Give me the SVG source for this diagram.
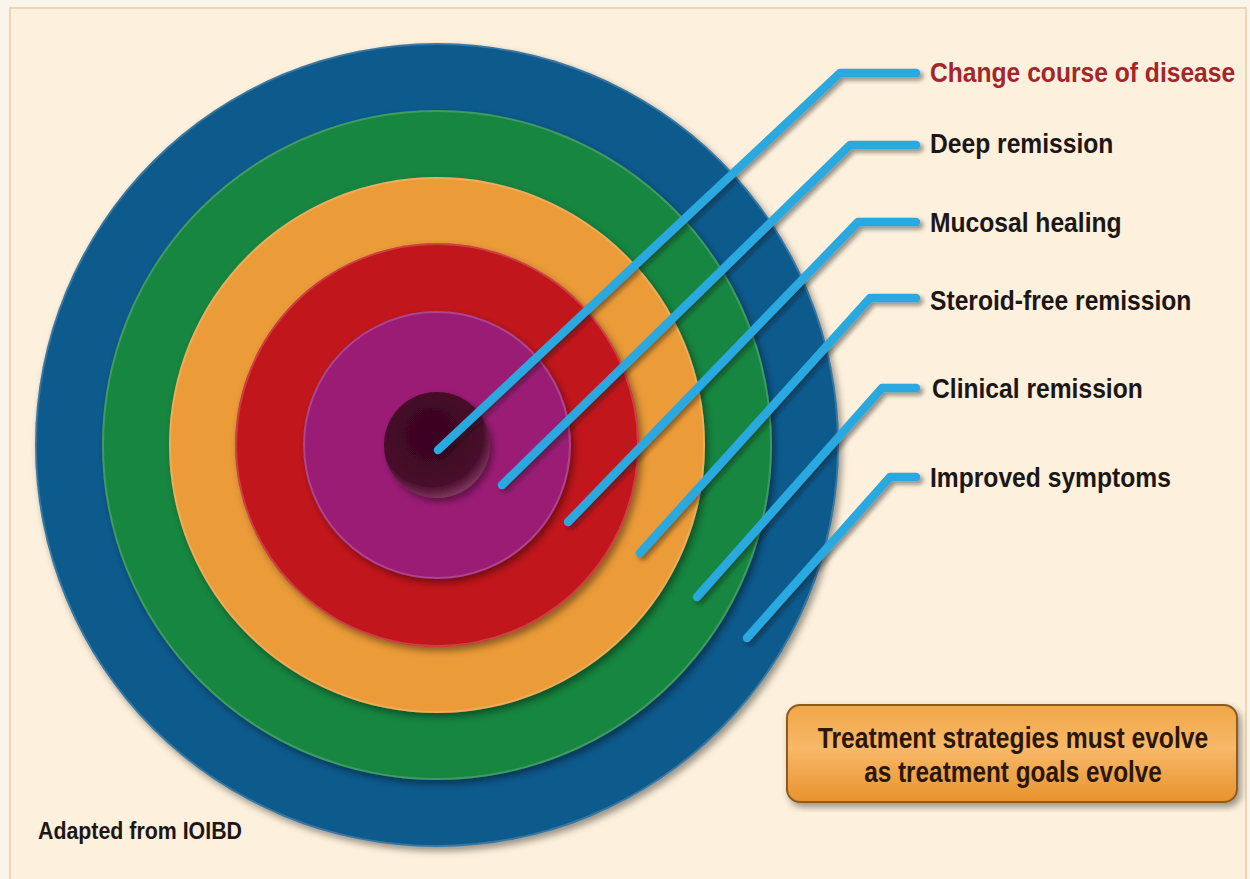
<svg xmlns="http://www.w3.org/2000/svg" width="1250" height="879" viewBox="0 0 1250 879">
<defs>
<style>
.lbl{font-family:"Liberation Sans",Arial,sans-serif;font-weight:bold;font-size:28px;fill:#1c1714}
.red{fill:#a3262b}
.box{font-family:"Liberation Sans",Arial,sans-serif;font-weight:bold;font-size:29px;fill:#2b1708;text-anchor:middle}
.conn{fill:none;stroke:#2aa8e0;stroke-width:8.5;stroke-linejoin:round;stroke-linecap:round}
.rim{fill:none;stroke:#ffffff;stroke-opacity:0.18;stroke-width:2}
</style>
<filter id="ds" x="-10%" y="-10%" width="120%" height="120%">
<feDropShadow dx="3" dy="4" stdDeviation="3.5" flood-color="#000" flood-opacity="0.4"/>
</filter>
<filter id="ls" x="-10%" y="-10%" width="120%" height="120%">
<feDropShadow dx="3" dy="3" stdDeviation="2" flood-color="#1a1a1a" flood-opacity="0.45"/>
</filter>
<linearGradient id="boxg" x1="0" y1="0" x2="0" y2="1">
<stop offset="0" stop-color="#f0a748"/>
<stop offset="0.45" stop-color="#f7b868"/>
<stop offset="1" stop-color="#e8922c"/>
</linearGradient>
<radialGradient id="core" cx="0.45" cy="0.4" r="0.6">
<stop offset="0" stop-color="#3a031f"/>
<stop offset="0.8" stop-color="#470a2a"/>
<stop offset="1" stop-color="#7a3558"/>
</radialGradient>
</defs>
<rect x="0" y="0" width="1250" height="879" fill="#fbf4ea"/>
<rect x="10" y="8" width="1236" height="872" fill="#fdf0dc" stroke="#ead7b6" stroke-width="2"/>
<g id="ring-blue"><circle cx="437" cy="445" r="402" fill="#0e5a8d" filter="url(#ds)"/><circle cx="437" cy="445" r="401" class="rim"/></g>
<g id="ring-green"><circle cx="437" cy="445" r="335" fill="#178641" filter="url(#ds)"/><circle cx="437" cy="445" r="334" class="rim"/></g>
<g id="ring-orange"><circle cx="437" cy="445" r="268" fill="#eb9b38" filter="url(#ds)"/><circle cx="437" cy="445" r="267" class="rim"/></g>
<g id="ring-red"><circle cx="437" cy="445" r="202" fill="#c1161f" filter="url(#ds)"/><circle cx="437" cy="445" r="201" class="rim"/></g>
<g id="ring-purple"><circle cx="437" cy="445" r="134" fill="#9b1b74" filter="url(#ds)"/><circle cx="437" cy="445" r="133" class="rim"/></g>
<g id="core-disk"><circle cx="437" cy="445" r="53" fill="url(#core)" filter="url(#ds)"/></g>
<g id="connectors" filter="url(#ls)">
<polyline class="conn" points="438,450 840,73 916,73"/>
<polyline class="conn" points="502,485 850,145 916,145"/>
<polyline class="conn" points="568,522 858,222 916,222"/>
<polyline class="conn" points="640,553 870,298 916,298"/>
<polyline class="conn" points="697,597 882,388 916,388"/>
<polyline class="conn" points="747,638 890,477 916,477"/>
</g>
<g id="label-change"><text class="lbl red" transform="translate(930,82) scale(0.88,1)">Change course of disease</text></g>
<g id="label-deep"><text class="lbl" transform="translate(930,153) scale(0.88,1)">Deep remission</text></g>
<g id="label-mucosal"><text class="lbl" transform="translate(930,232) scale(0.88,1)">Mucosal healing</text></g>
<g id="label-steroid"><text class="lbl" transform="translate(930,310) scale(0.88,1)">Steroid-free remission</text></g>
<g id="label-clinical"><text class="lbl" transform="translate(932,398) scale(0.88,1)">Clinical remission</text></g>
<g id="label-improved"><text class="lbl" transform="translate(930,487) scale(0.88,1)">Improved symptoms</text></g>
<g id="note-box">
<rect x="787" y="705" width="450" height="97" rx="13" fill="url(#boxg)" stroke="#8c5a22" stroke-width="2" filter="url(#ds)"/>
<text class="box" transform="translate(1013,748) scale(0.85,1)">Treatment strategies must evolve</text>
<text class="box" transform="translate(1013,782) scale(0.84,1)">as treatment goals evolve</text>
</g>
<g id="source"><text class="lbl" style="font-size:24px" transform="translate(38,839) scale(0.89,1)">Adapted from IOIBD</text></g>
</svg>
